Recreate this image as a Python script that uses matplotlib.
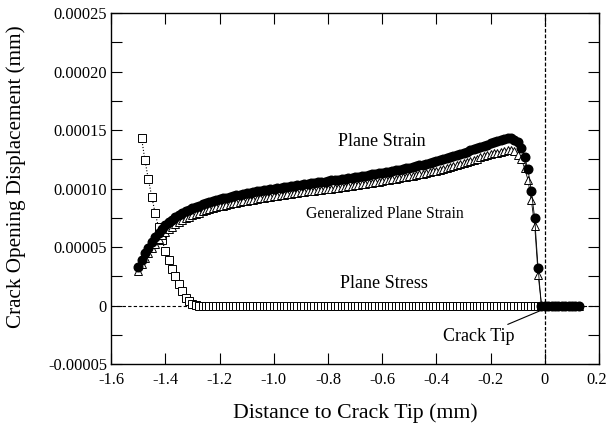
"""
Crack opening displacement along the crack face for three 2D assumptions.
"""
import matplotlib.pyplot as plt
import numpy as np
from matplotlib.transforms import ScaledTranslation

# Node positions along the crack face (mm)
x_mm = [
    -1.5, -1.4875, -1.475, -1.4625, -1.45, -1.4375, -1.425, -1.4125,
    -1.4, -1.3875, -1.375, -1.3625, -1.35, -1.3375, -1.325, -1.3125,
    -1.3, -1.2875, -1.275, -1.2625, -1.25, -1.2375, -1.225, -1.2125,
    -1.2, -1.1875, -1.175, -1.1625, -1.15, -1.1375, -1.125, -1.1125,
    -1.1, -1.0875, -1.075, -1.0625, -1.05, -1.0375, -1.025, -1.0125,
    -1.0, -0.9875, -0.975, -0.9625, -0.95, -0.9375, -0.925, -0.9125,
    -0.9, -0.8875, -0.875, -0.8625, -0.85, -0.8375, -0.825, -0.8125,
    -0.8, -0.7875, -0.775, -0.7625, -0.75, -0.7375, -0.725, -0.7125,
    -0.7, -0.6875, -0.675, -0.6625, -0.65, -0.6375, -0.625, -0.6125,
    -0.6, -0.5875, -0.575, -0.5625, -0.55, -0.5375, -0.525, -0.5125,
    -0.5, -0.4875, -0.475, -0.4625, -0.45, -0.4375, -0.425, -0.4125,
    -0.4, -0.3875, -0.375, -0.3625, -0.35, -0.3375, -0.325, -0.3125,
    -0.3, -0.2875, -0.275, -0.2625, -0.25, -0.2375, -0.225, -0.2125,
    -0.2, -0.1875, -0.175, -0.1625, -0.15, -0.1375, -0.125, -0.1125,
    -0.1, -0.0875, -0.075, -0.0625, -0.05, -0.0375, -0.025, -0.0125,
    0.0, 0.0125, 0.025, 0.0375, 0.05, 0.0625, 0.075, 0.0875,
    0.1, 0.1125, 0.125,
]

# COD values in units of 1e-5 mm
plane_strain = [
    3.3, 3.9, 4.45, 4.95, 5.45, 5.85, 6.2, 6.55,
    6.85, 7.1, 7.35, 7.55, 7.75, 7.9, 8.05, 8.2,
    8.3, 8.42, 8.53, 8.64, 8.74, 8.83, 8.92, 9.0,
    9.08, 9.16, 9.23, 9.3, 9.37, 9.43, 9.49, 9.55,
    9.61, 9.66, 9.71, 9.76, 9.81, 9.86, 9.9, 9.95,
    9.99, 10.03, 10.07, 10.12, 10.16, 10.2, 10.24, 10.28,
    10.32, 10.36, 10.4, 10.44, 10.48, 10.52, 10.56, 10.6,
    10.65, 10.69, 10.73, 10.77, 10.81, 10.85, 10.9, 10.94,
    10.98, 11.02, 11.07, 11.11, 11.16, 11.2, 11.25, 11.3,
    11.35, 11.4, 11.45, 11.5, 11.55, 11.6, 11.66, 11.72,
    11.78, 11.84, 11.9, 11.97, 12.04, 12.11, 12.18, 12.26,
    12.34, 12.42, 12.5, 12.59, 12.68, 12.77, 12.86, 12.96,
    13.06, 13.16, 13.26, 13.36, 13.46, 13.56, 13.66, 13.76,
    13.86, 13.95, 14.05, 14.15, 14.25, 14.3, 14.28, 14.18,
    13.95, 13.45, 12.7, 11.65, 9.8, 7.45, 3.2, 0.0,
    0.0, 0.0, 0.0, 0.0, 0.0, 0.0, 0.0, 0.0,
    0.0, 0.0, 0.0,
]

gen_plane_strain = [
    2.97, 3.55, 4.05, 4.5, 4.95, 5.3, 5.65, 6.0,
    6.3, 6.5, 6.75, 6.95, 7.15, 7.3, 7.45, 7.6,
    7.7, 7.82, 7.93, 8.04, 8.14, 8.23, 8.32, 8.4,
    8.48, 8.53, 8.6, 8.67, 8.73, 8.79, 8.85, 8.91,
    8.96, 9.01, 9.06, 9.11, 9.16, 9.21, 9.25, 9.3,
    9.34, 9.38, 9.42, 9.47, 9.51, 9.55, 9.59, 9.63,
    9.67, 9.71, 9.75, 9.79, 9.83, 9.86, 9.9, 9.93,
    9.97, 10.0, 10.03, 10.07, 10.11, 10.15, 10.2, 10.24,
    10.28, 10.32, 10.37, 10.41, 10.46, 10.5, 10.55, 10.6,
    10.65, 10.7, 10.75, 10.8, 10.85, 10.9, 10.95, 11.0,
    11.05, 11.1, 11.15, 11.21, 11.27, 11.33, 11.39, 11.46,
    11.53, 11.6, 11.68, 11.76, 11.84, 11.92, 12.0, 12.09,
    12.18, 12.27, 12.36, 12.46, 12.56, 12.66, 12.76, 12.86,
    12.95, 13.0, 13.08, 13.16, 13.25, 13.3, 13.3, 13.2,
    12.85, 12.55, 11.75, 10.75, 9.0, 6.8, 2.65, 0.0,
    0.0, 0.0, 0.0, 0.0, 0.0, 0.0, 0.0, 0.0,
    0.0, 0.0, 0.0,
]

# plane stress starts at the second node and is zero from -1.275 to the tip
plane_stress = [
    14.3, 12.4, 10.8, 9.3, 7.9, 6.7, 5.6,
    4.7, 3.9, 3.1, 2.5, 1.85, 1.2, 0.65, 0.35,
    0.15, 0.05,
] + [0.0] * 102

x_ticks = [-1.6, -1.4, -1.2, -1.0, -0.8, -0.6, -0.4, -0.2, 0.0, 0.2]
x_labels = ['-1.6', '-1.4', '-1.2', '-1.0', '-0.8', '-0.6', '-0.4', '-0.2', '0', '0.2']
y_ticks = [-0.00005, 0.0, 0.00005, 0.0001, 0.00015, 0.0002, 0.00025]
y_labels = ['-0.00005', '0', '0.00005', '0.00010', '0.00015', '0.00020', '0.00025']
y_minor = [-0.000025, 0.000025, 0.000075, 0.000125, 0.000175, 0.000225]

plt.rcParams['font.family'] = ['Liberation Serif', 'DejaVu Serif']

x = np.array(x_mm)
ps = np.array(plane_strain) * 1e-5
gps = np.array(gen_plane_strain) * 1e-5
pst = np.array(plane_stress) * 1e-5
x_pst = x[1:1 + len(pst)]

fig = plt.figure(figsize=(6.07, 4.28), dpi=100)
ax = fig.add_axes([0.183, 0.1495, 0.804, 0.82])

# reference lines
ax.axhline(0, color='black', ls=(0, (3, 2)), lw=0.8, zorder=1)
ax.axvline(0, color='black', ls=(0, (3, 1.5)), lw=0.9, zorder=1)

ax.plot(x_pst, pst, ls=':', lw=0.8, color='black', marker='s', ms=5.6,
        mfc='white', mec='black', mew=0.7, zorder=3)
ax.plot(x, gps, ls='-', lw=0.6, color='black', marker='^', ms=5.6,
        mfc='white', mec='black', mew=0.7, zorder=4)
ax.plot(x, ps, ls='-', lw=0.6, color='black', marker='o', ms=6.2,
        mfc='black', mec='black', zorder=5)

ax.text(-0.6, 0.00014, 'Plane Strain', fontsize=13, ha='center', va='center')
ax.text(-0.59, 0.0000782, 'Generalized Plane Strain', fontsize=11.4,
        ha='center', va='center')
ax.text(-0.593, 0.0000188, 'Plane Stress', fontsize=13, ha='center', va='center')
ax.annotate('Crack Tip', xy=(-0.02, -0.0000047), xytext=(-0.245, -0.0000267),
            fontsize=13, ha='center', va='center',
            arrowprops=dict(arrowstyle='-', color='black', lw=0.8,
                            shrinkA=2, shrinkB=0))

ax.set_xlim(-1.6, 0.2)
ax.set_ylim(-0.00005, 0.00025)
ax.set_xticks(x_ticks)
ax.set_xticklabels(x_labels)
ax.set_yticks(y_ticks)
ax.set_yticklabels(y_labels)
ax.set_yticks(y_minor, minor=True)
ax.tick_params(which='both', direction='in', top=True, right=True,
               length=8, width=0.8, labelsize=11.8)
ax.tick_params(axis='x', pad=6)
ax.tick_params(axis='y', pad=3)

# keep the last x label inside the canvas
last = ax.get_xticklabels()[-1]
last.set_transform(last.get_transform() + ScaledTranslation(-0.025, 0, fig.dpi_scale_trans))

ax.set_xlabel('Distance to Crack Tip (mm)', fontsize=15.7, labelpad=11)
ax.set_ylabel('Crack Opening Displacement (mm)', fontsize=15.2)
ax.yaxis.set_label_coords(-0.174, 0.534)

for s in ax.spines.values():
    s.set_linewidth(1.0)

plt.savefig('out.png', dpi=100)
